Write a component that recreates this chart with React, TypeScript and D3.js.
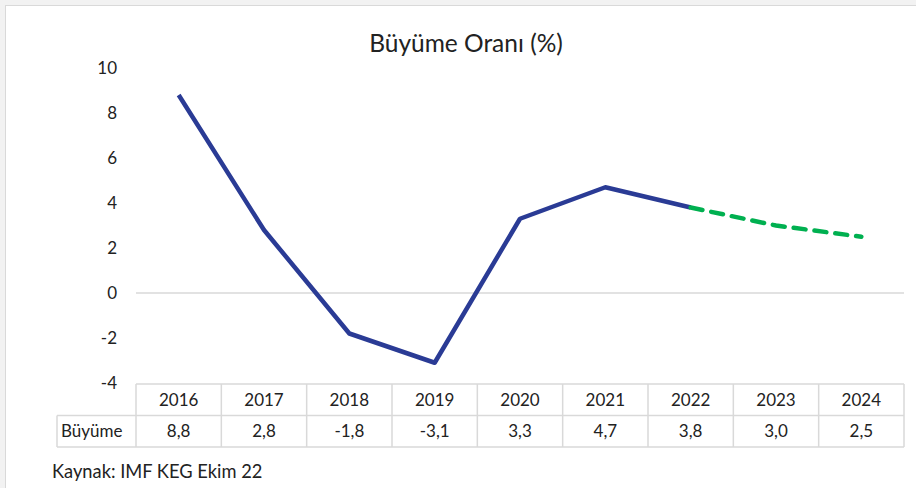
import React from "react";
import { scaleBand, scaleLinear, line } from "d3";

const years = ["2016", "2017", "2018", "2019", "2020", "2021", "2022", "2023", "2024"];
const growth = [8.8, 2.8, -1.8, -3.1, 3.3, 4.7, 3.8, 3.0, 2.5];
const growthLabels = ["8,8", "2,8", "-1,8", "-3,1", "3,3", "4,7", "3,8", "3,0", "2,5"];
const yTicks = [-4, -2, 0, 2, 4, 6, 8, 10];
const actualUntil = "2022";
const rowLabel = "Büyüme";
const title = "Büyüme Oranı (%)";
const source = "Kaynak: IMF KEG Ekim 22";

const W = 916;
const H = 488;
const font = "Lato, 'Open Sans', sans-serif";
const grid = "#d9d9d9";

const App = () => {
  const xScale = scaleBand().domain(years).range([136, 904]).padding(0);
  const yScale = scaleLinear().domain([-4, 10]).range([383, 68]);
  const cx = (y: string) => (xScale(y) as number) + xScale.bandwidth() / 2;

  const pts = years.map((y, i) => ({ year: y, v: growth[i] }));
  const cut = years.indexOf(actualUntil);
  const path = line<{ year: string; v: number }>()
    .x((d) => cx(d.year))
    .y((d) => yScale(d.v));

  const rowTop = yScale(-4) + 1;
  const rowH = 31.5;
  const labelLeft = 57;

  return (
    <svg
      width={W}
      height={H}
      viewBox={`0 0 ${W} ${H}`}
      style={{ position: "absolute", left: 0, top: 0, background: "#fff" }}
      fontFamily={font}
    >
      <rect x={0} y={0} width={W} height={5} fill="#f2f2f2" />
      <rect x={0} y={0} width={5} height={H} fill="#f2f2f2" />
      <line x1={5.5} x2={5.5} y1={5} y2={H} stroke={grid} />
      <line x1={5} x2={W} y1={5.5} y2={5.5} stroke={grid} />

      <text x={466} y={52} textAnchor="middle" fontSize={24.5} fill="#222">
        {title}
      </text>

      {yTicks.map((t) => (
        <text key={t} x={117} y={yScale(t) + 6} textAnchor="end" fontSize={17} fill="#222">
          {t}
        </text>
      ))}

      <line x1={136} x2={904} y1={yScale(0)} y2={yScale(0)} stroke={grid} strokeWidth={1.5} />

      {/* table */}
      <g stroke={grid} strokeWidth={1.5} fill="none">
        <line x1={136} x2={904} y1={rowTop} y2={rowTop} />
        <line x1={labelLeft} x2={904} y1={rowTop + rowH} y2={rowTop + rowH} />
        <line x1={labelLeft} x2={904} y1={rowTop + 2 * rowH} y2={rowTop + 2 * rowH} />
        <line x1={labelLeft} x2={labelLeft} y1={rowTop + rowH} y2={rowTop + 2 * rowH} />
        {years.map((y) => (
          <line key={y} x1={xScale(y)} x2={xScale(y)} y1={rowTop} y2={rowTop + 2 * rowH} />
        ))}
        <line x1={904} x2={904} y1={rowTop} y2={rowTop + 2 * rowH} />
      </g>
      {years.map((y, i) => (
        <g key={y} fontSize={17} fill="#222" textAnchor="middle">
          <text x={cx(y)} y={rowTop + rowH / 2 + 6}>{y}</text>
          <text x={cx(y)} y={rowTop + rowH * 1.5 + 6}>{growthLabels[i]}</text>
        </g>
      ))}
      <text x={61} y={rowTop + rowH * 1.5 + 6} fontSize={17} fill="#222">
        {rowLabel}
      </text>

      <path
        d={path(pts.slice(0, cut + 1)) || ""}
        fill="none"
        stroke="#2a3b95"
        strokeWidth={4.5}
        strokeLinejoin="round"
      />
      <path
        d={path(pts.slice(cut)) || ""}
        fill="none"
        stroke="#00b050"
        strokeWidth={4.5}
        strokeDasharray="12 9"
        strokeLinecap="round"
      />

      <text x={52} y={478} fontSize={18.3} fill="#222">
        {source}
      </text>
    </svg>
  );
};

export default App;
